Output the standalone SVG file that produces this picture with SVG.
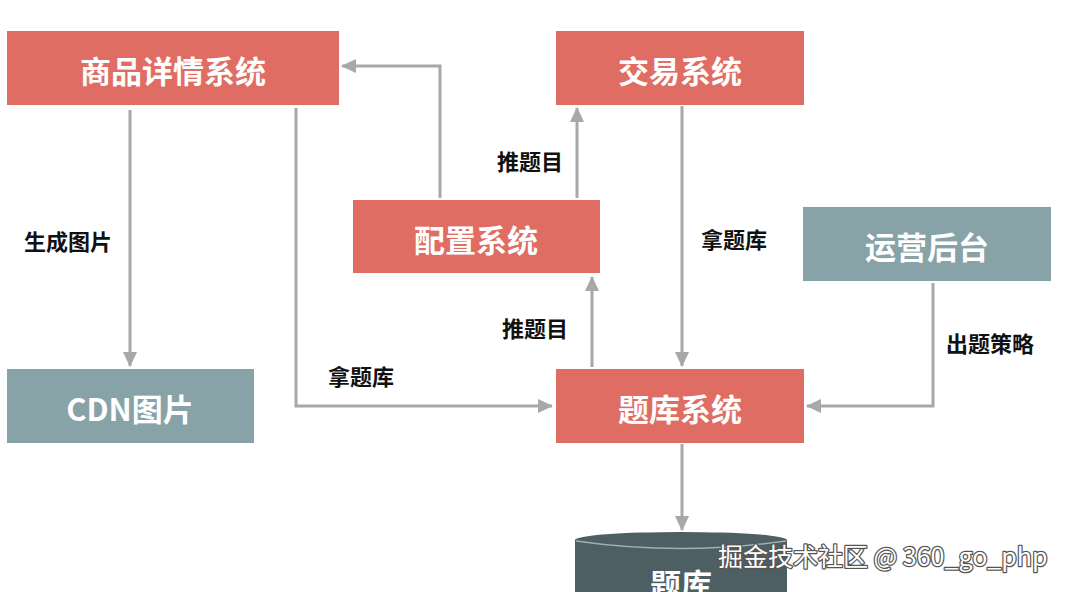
<svg xmlns="http://www.w3.org/2000/svg" width="1070" height="592" viewBox="0 0 1070 592">
<style>
.red{fill:#e06d64}
.teal{fill:#87a3a8}
.bt{font-family:"Noto Sans CJK SC","Liberation Sans",sans-serif;font-size:31px;font-weight:bold;fill:#fff;text-anchor:middle;dominant-baseline:central}
.lb{font-family:"Noto Sans CJK SC","Liberation Sans",sans-serif;font-size:22px;font-weight:bold;fill:#111;text-anchor:middle;dominant-baseline:central}
.cn{fill:none;stroke:#a8a8a8;stroke-width:3;marker-end:url(#ah)}
.wm{font-family:"Noto Sans CJK SC","Liberation Sans",sans-serif;font-size:25px;fill:#fff;stroke:#555;stroke-width:2.5;paint-order:stroke;stroke-linejoin:round}
</style>
<defs>
<marker id="ah" markerUnits="userSpaceOnUse" markerWidth="16" markerHeight="16" refX="14" refY="8" orient="auto">
<path d="M0,1 L15,8 L0,15 Z" fill="#a8a8a8"/>
</marker>
</defs>
<rect width="1070" height="592" fill="#fff"/>
<g id="connectors">
<path class="cn" d="M130,110 V366"/>
<path class="cn" d="M296,108 V406 H552"/>
<path class="cn" d="M440,198 V66 H342"/>
<path class="cn" d="M577,198 V108"/>
<path class="cn" d="M592,367 V277"/>
<path class="cn" d="M682,106 V366"/>
<path class="cn" d="M933,283 V406 H807"/>
<path class="cn" d="M682,444 V530"/>
<text class="lb" x="68" y="240">生成图片</text>
<text class="lb" x="361" y="375">拿题库</text>
<text class="lb" x="530" y="160">推题目</text>
<text class="lb" x="535" y="327">推题目</text>
<text class="lb" x="734" y="238">拿题库</text>
<text class="lb" x="990" y="342">出题策略</text>
</g>
<g id="node-detail"><rect class="red" x="7" y="31" width="332" height="74"/><text class="bt" x="173" y="69">商品详情系统</text></g>
<g id="node-trade"><rect class="red" x="556" y="31" width="248" height="74"/><text class="bt" x="680" y="69">交易系统</text></g>
<g id="node-config"><rect class="red" x="353" y="200" width="247" height="73"/><text class="bt" x="476" y="238">配置系统</text></g>
<g id="node-ops"><rect class="teal" x="803" y="207" width="248" height="74"/><text class="bt" x="927" y="245">运营后台</text></g>
<g id="node-cdn"><rect class="teal" x="7" y="369" width="247" height="74"/><text class="bt" x="130" y="407">CDN图片</text></g>
<g id="node-bank"><rect class="red" x="556" y="369" width="248" height="74"/><text class="bt" x="680" y="407">题库系统</text></g>
<g id="node-db">
<path d="M575,540 V600 H787 V540 Z" fill="#4e5f63"/>
<ellipse cx="681" cy="540" rx="106" ry="8" fill="#4e5f63"/>
<path d="M576,541 Q681,556 786,541" fill="none" stroke="#9fb0b3" stroke-width="1.5"/>
<text class="bt" x="681" y="582">题库</text>
</g>
<text class="wm" x="718" y="566">掘金技术社区 @ 360_go_php</text>
</svg>
